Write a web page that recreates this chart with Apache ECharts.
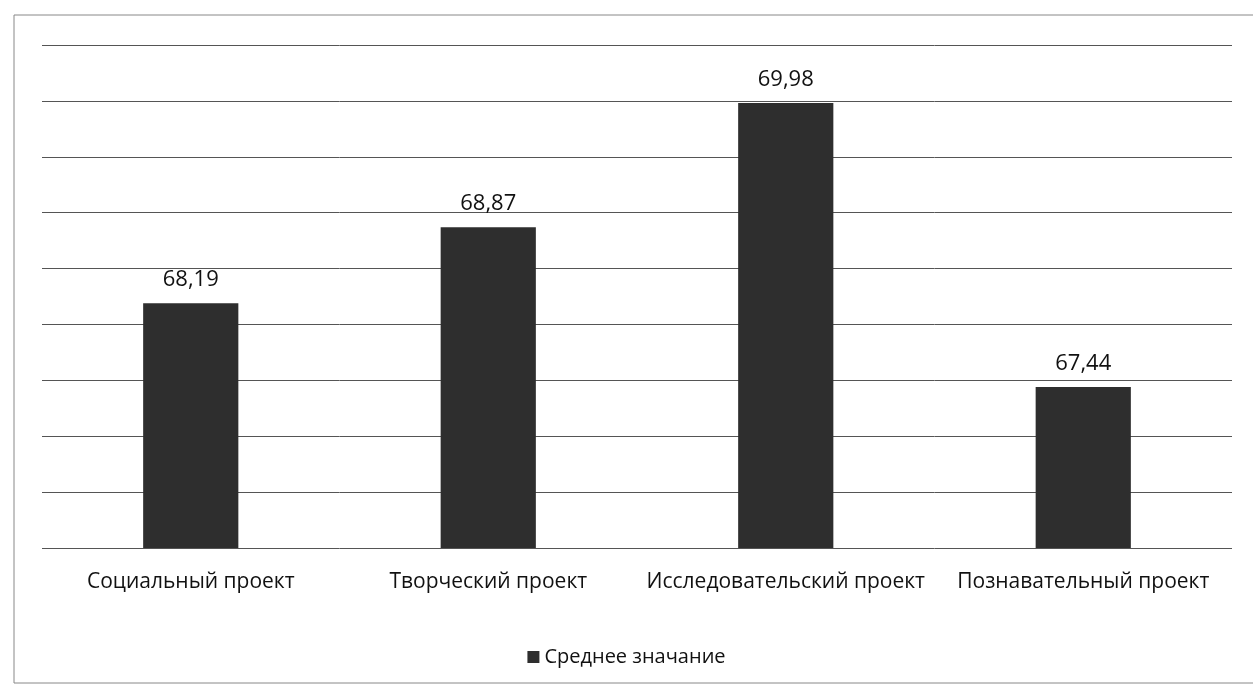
<!DOCTYPE html>
<html>
<head>
<meta charset="utf-8">
<script src="https://cdn.jsdelivr.net/npm/echarts@6/dist/echarts.min.js"></script>
<style>
  html, body { margin: 0; padding: 0; background: #fff; }
  #chart { width: 1253px; height: 695px; }
</style>
</head>
<body>
<div id="chart"></div>
<script>
// данные с диаграммы
const categories = ['Социальный проект', 'Творческий проект', 'Исследовательский проект', 'Познавательный проект'];
const averages = [68.19, 68.87, 69.98, 67.44];
const seriesName = 'Среднее значание';

const font = '"Open Sans", "Noto Sans", sans-serif';

let myChart = echarts.init(document.getElementById('chart'));
myChart.setOption({
  backgroundColor: '#fff',
  animation: false,
  graphic: [{
    type: 'rect',
    shape: { x: 14, y: 15, width: 1250, height: 668 },
    style: { fill: 'none', stroke: '#888', lineWidth: 1 }
  }],
  grid: { left: 42, right: 21, top: 45, bottom: 147 },
  legend: {
    bottom: 23,
    left: 'center',
    itemWidth: 12,
    itemHeight: 12,
    itemGap: 8,
    icon: 'rect',
    textStyle: { fontFamily: font, fontSize: 20, color: '#111' },
    data: [seriesName]
  },
  xAxis: {
    type: 'category',
    data: categories,
    axisLine: { show: false },
    axisTick: { show: false },
    axisLabel: { interval: 0, hideOverlap: false, margin: 24, fontFamily: font, fontSize: 21, color: '#111' }
  },
  yAxis: {
    type: 'value',
    min: 66,
    max: 70.5,
    interval: 0.5,
    axisLabel: { show: false },
    axisLine: { show: false },
    axisTick: { show: false },
    splitLine: { lineStyle: { color: '#555', width: 1 } }
  },
  series: [{
    name: seriesName,
    type: 'bar',
    barWidth: '32%',
    data: averages,
    itemStyle: { color: '#2e2e2e' },
    label: {
      show: true,
      position: 'top',
      distance: 12,
      fontFamily: font,
      fontSize: 22,
      color: '#111',
      formatter: p => p.value.toFixed(2).replace('.', ',')
    }
  }]
});
</script>
</body>
</html>
